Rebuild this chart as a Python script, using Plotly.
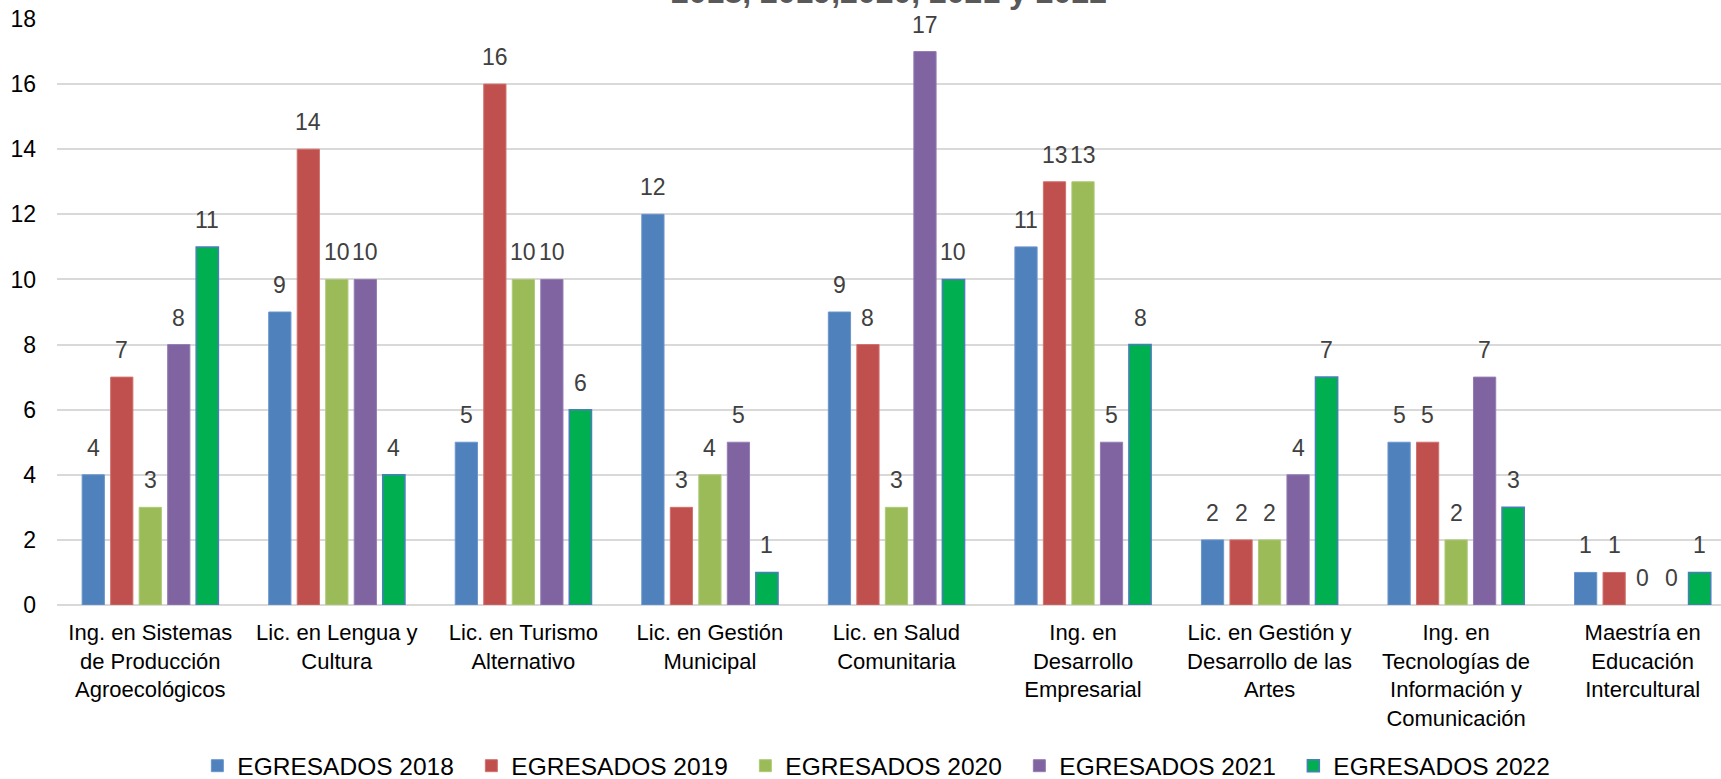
import plotly.graph_objects as go

programas = [
    "Ing. en Sistemas<br>de Producción<br>Agroecológicos",
    "Lic. en Lengua y<br>Cultura",
    "Lic. en Turismo<br>Alternativo",
    "Lic. en Gestión<br>Municipal",
    "Lic. en Salud<br>Comunitaria",
    "Ing. en<br>Desarrollo<br>Empresarial",
    "Lic. en Gestión y<br>Desarrollo de las<br>Artes",
    "Ing. en<br>Tecnologías de<br>Información y<br>Comunicación",
    "Maestría en<br>Educación<br>Intercultural",
]

egresados_2018 = [4, 9, 5, 12, 9, 11, 2, 5, 1]
egresados_2019 = [7, 14, 16, 3, 8, 13, 2, 5, 1]
egresados_2020 = [3, 10, 10, 4, 3, 13, 2, 2, 0]
egresados_2021 = [8, 10, 10, 5, 17, 5, 4, 7, 0]
egresados_2022 = [11, 4, 6, 1, 10, 8, 7, 3, 1]

series = [
    ("EGRESADOS 2018", egresados_2018, "#4F81BD", "#6A96CC"),
    ("EGRESADOS 2019", egresados_2019, "#C0504D", "#D0716E"),
    ("EGRESADOS 2020", egresados_2020, "#9BBB59", "#AECA78"),
    ("EGRESADOS 2021", egresados_2021, "#8064A2", "#957DB3"),
    ("EGRESADOS 2022", egresados_2022, "#00B050", "#4A7EBB"),
]

BARGAP = 0.236
slot = (1 - BARGAP) / len(series)

fig = go.Figure()
for k, (name, vals, color, edge) in enumerate(series):
    w = 1.5 if name.endswith("2022") else 1
    fig.add_trace(go.Bar(
        name=name,
        x=programas,
        y=vals,
        marker=dict(color=color, line=dict(color=edge, width=[w if v else 0 for v in vals])),
    ))
    # value labels sit a bit higher above the bars than plotly's "outside" text
    off = -(1 - BARGAP) / 2 + slot * (k + 0.5)
    for i, v in enumerate(vals):
        fig.add_annotation(
            x=i + off, y=v, xref="x", yref="y",
            text=str(v), showarrow=False,
            yanchor="bottom", yshift=12,
            font=dict(family="Liberation Sans, Arial", size=23, color="#404040"),
        )

# title is cut off at the top edge in the original picture
fig.add_annotation(
    text="<b>2018, 2019,2020, 2021 y 2022</b>",
    xref="paper", yref="paper", x=0.5, y=1, yanchor="bottom", yshift=7,
    showarrow=False,
    font=dict(family="Liberation Sans, Arial", size=32, color="#595959"),
)

fig.update_layout(
    width=1721,
    height=779,
    margin=dict(l=57, r=0, t=19, b=174, autoexpand=False),
    paper_bgcolor="white",
    plot_bgcolor="white",
    barmode="group",
    bargap=BARGAP,
    bargroupgap=0.22,
    font=dict(family="Liberation Sans, Arial", size=23, color="#000000"),
    showlegend=True,
    legend=dict(
        orientation="h",
        x=0.496, xanchor="center",
        yref="container", y=0.017, yanchor="middle",
        font=dict(size=24.5, color="#000000"),
        entrywidth=229,
        itemwidth=30,
        traceorder="normal",
    ),
    xaxis=dict(
        range=[-0.5, 8.42],
        showgrid=False,
        showline=False,
        automargin=False,
        ticklabelstandoff=12,
        tickfont=dict(size=22, color="#000000"),
        ticks="",
    ),
    yaxis=dict(
        range=[0, 18],
        dtick=2,
        showgrid=True,
        gridcolor="#D9D9D9",
        gridwidth=2,
        zeroline=True,
        zerolinecolor="#D9D9D9",
        zerolinewidth=2,
        showline=False,
        automargin=False,
        ticks="",
        ticklabelstandoff=20,
        tickfont=dict(size=23, color="#000000"),
    ),
)

# drop the browser's default body margin so the figure fills the window
fig.write_html(
    "out.html",
    config={"displayModeBar": False},
    post_script="document.body.style.margin = '0';",
)
